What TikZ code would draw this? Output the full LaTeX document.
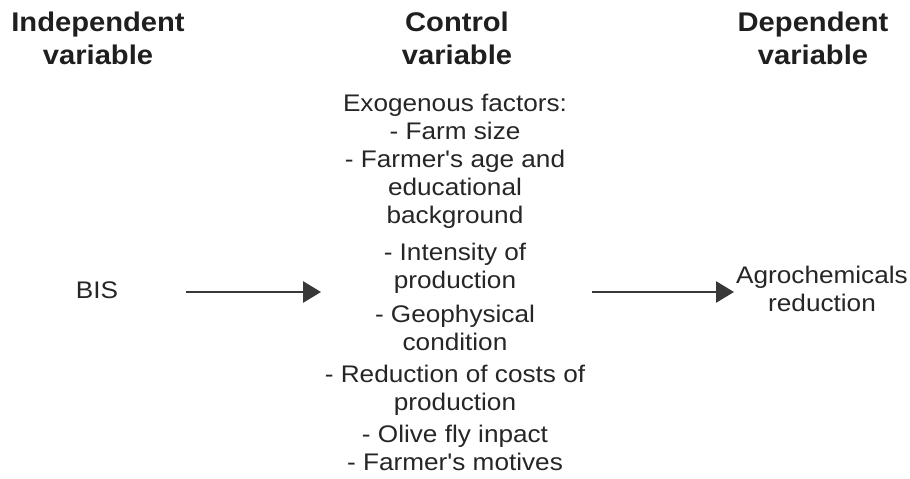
\documentclass[tikz,border=0pt]{standalone}
\usepackage{fontspec}
\setmainfont{Liberation Sans}
\newfontfamily\widebody[FakeStretch=1.09]{Liberation Sans}
\newfontfamily\widehead[FakeStretch=1.08]{Liberation Sans}
\usetikzlibrary{arrows.meta}
\begin{document}
\begin{tikzpicture}[x=1pt,y=-1pt,
  head/.style={font=\widehead\fontsize{27}{33}\selectfont\bfseries, align=center, text=black!88},
  body/.style={font=\widebody\fontsize{24}{28}\selectfont, align=center, text=black!85, inner sep=0pt},
  conn/.style={-{Triangle[length=18pt,width=21pt]}, line width=2.8pt, draw=black!78}]
\useasboundingbox[fill=white] (0,0) rectangle (910,479);
\node[head] (h1) at (98,38) {Independent\\variable};
\node[head] (h2) at (457,38) {Control\\variable};
\node[head] (h3) at (813,38) {Dependent\\variable};
\node[body] (bis) at (97,290) {BIS};
\node[body] (dep) at (822,289) {Agrochemicals\\reduction};
\node[body, anchor=north] (ctl) at (455,94) {Exogenous factors:\\- Farm size\\- Farmer's age and\\educational\\background\\[9pt]- Intensity of\\production\\[6pt]- Geophysical\\condition\\[4pt]- Reduction of costs of\\production\\[4pt]- Olive fly inpact\\- Farmer's motives};
\coordinate (a1s) at (186,292);
\coordinate (a1e) at (321,292);
\coordinate (a2s) at (592,292);
\coordinate (a2e) at (734,292);
\draw[conn] (a1s) -- (a1e);
\draw[conn] (a2s) -- (a2e);
\end{tikzpicture}
\end{document}
